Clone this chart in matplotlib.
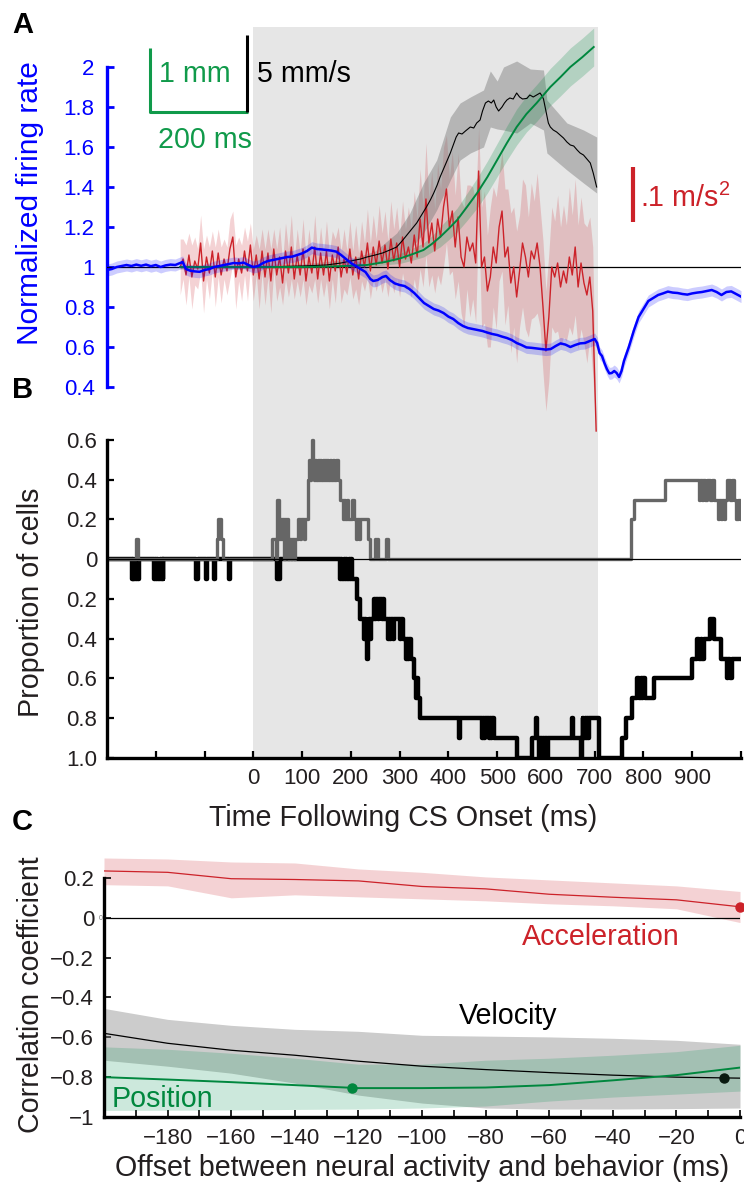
import numpy as np
import matplotlib
matplotlib.use("Agg")
import matplotlib.pyplot as plt

plt.rcParams["font.family"] = ["Liberation Sans", "DejaVu Sans"]
plt.rcParams["mathtext.fontset"] = "custom"
plt.rcParams["mathtext.rm"] = "Liberation Sans"
plt.rcParams["mathtext.it"] = "Liberation Sans:italic"

BLUE = "#0000ff"; RED = "#cc2229"; GREEN = "#00873e"; INK = "#231f20"; SHADE = "#e6e6e6"

# ---------------- panel A data ----------------
blue_t = [-300, -290, -280, -270, -260, -250, -240, -230, -220, -210, -200, -190, -180, -170, -160,
          -150, -145, -138, -130, -120, -110, -100, -90, -80, -70, -60, -50, -40, -30, -20, -10,
          0, 10, 20, 30, 40, 50, 60, 70, 80, 90, 100, 110, 120, 130, 140, 150, 160, 170, 180, 190,
          200, 210, 220, 230, 240, 246, 255, 265, 272, 280, 290, 300, 310, 320, 330, 340, 350, 360,
          370, 380, 390, 400, 410, 420, 430, 440, 450, 460, 470, 480, 490, 500, 510, 520, 530, 540,
          550, 560, 570, 580, 590, 600, 610, 620, 630, 640, 650, 660, 670, 680, 690, 700, 705, 710,
          715, 720, 725, 730, 735, 740, 745, 750, 755, 760, 770, 780, 790, 800, 810, 820, 830, 840,
          850, 860, 870, 880, 890, 900, 910, 920, 930, 940, 950, 960, 970, 980, 990, 1000]
blue_v = [0.985, 0.99, 1.0, 1.005, 1.01, 1.005, 1.012, 1.006, 1.012, 1.004, 1.01, 1.0, 1.008, 1.012, 1.01,
          1.02, 1.025, 0.99, 0.982, 0.978, 0.976, 0.985, 0.99, 1.0, 1.005, 1.01, 1.015, 1.02, 1.018, 1.022, 1.01,
          1.0, 1.005, 1.02, 1.03, 1.035, 1.04, 1.045, 1.05, 1.052, 1.06, 1.068, 1.08, 1.097, 1.09, 1.088, 1.085,
          1.082, 1.077, 1.06, 1.04, 1.02, 1.005, 0.99, 0.975, 0.94, 0.93, 0.935, 0.95, 0.955, 0.935, 0.918, 0.91,
          0.905, 0.89, 0.87, 0.845, 0.82, 0.805, 0.79, 0.782, 0.77, 0.752, 0.74, 0.72, 0.705, 0.695, 0.69, 0.685,
          0.68, 0.672, 0.665, 0.66, 0.652, 0.645, 0.635, 0.62, 0.61, 0.598, 0.596, 0.593, 0.59, 0.587, 0.59,
          0.605, 0.618, 0.612, 0.6, 0.61, 0.618, 0.62, 0.63, 0.64, 0.62, 0.57, 0.555, 0.52, 0.49, 0.468, 0.47,
          0.48, 0.47, 0.45, 0.48, 0.53, 0.6, 0.68, 0.75, 0.79, 0.83, 0.845, 0.86, 0.868, 0.877, 0.872, 0.87,
          0.865, 0.862, 0.868, 0.872, 0.875, 0.88, 0.885, 0.875, 0.86, 0.875, 0.878, 0.865, 0.852]
blue_sem = 0.03

red_t = np.append(np.arange(-150, 700, 6), 703)
red_v = [1.00, 1.04, 0.96, 1.06, 0.95, 1.03, 0.99, 1.12, 0.93, 1.05,
         0.97, 1.08, 0.95, 1.07, 0.96, 1.04, 0.98, 1.09, 1.15, 0.95,
         1.04, 0.97, 1.08, 0.98, 1.11, 0.96, 1.06, 0.94, 1.08, 0.95,
         1.07, 0.93, 1.09, 0.96, 1.05, 0.92, 1.08, 0.97, 1.10, 0.94,
         1.06, 0.96, 1.09, 0.93, 1.05, 0.97, 1.10, 0.94, 1.07, 0.96,
         1.08, 0.93, 1.06, 0.98, 1.10, 0.95, 1.04, 0.97, 1.09, 0.96,
         1.05, 0.94, 1.08, 1.00, 1.12, 0.98, 1.10, 1.01, 1.13, 1.02,
         1.11, 0.99, 1.14, 1.03, 1.12, 1.00, 1.15, 1.04, 1.10, 1.02,
         1.16, 1.05, 1.24, 1.10, 1.34, 1.12, 1.22, 1.08, 1.24, 1.15,
         1.30, 1.39, 1.20, 1.28, 1.10, 1.25, 1.05, 1.00, 1.15, 1.08,
         1.12, 1.02, 1.48, 1.00, 1.05, 0.88, 0.95, 1.10, 1.02, 1.20,
         1.28, 1.05, 1.10, 0.92, 1.00, 0.85, 0.98, 1.12, 1.05, 0.95,
         1.08, 1.04, 1.12, 1.00, 0.80, 0.58, 0.75, 1.00, 0.95, 1.02,
         0.90, 0.98, 0.92, 1.05, 0.96, 1.10, 0.90, 1.02, 0.92, 0.86,
         0.95, 0.78, 0.18]
red_err = [0.14, 0.10, 0.15, 0.11, 0.16, 0.12, 0.10, 0.14, 0.16, 0.11,
           0.13, 0.10, 0.15, 0.12, 0.14, 0.10, 0.12, 0.15, 0.13, 0.16,
           0.11, 0.14, 0.12, 0.15, 0.11,
           0.13, 0.10, 0.15, 0.11, 0.14, 0.12, 0.16, 0.10, 0.13, 0.15,
           0.11, 0.14, 0.12, 0.16, 0.10, 0.13, 0.11, 0.15, 0.12, 0.14,
           0.10, 0.16, 0.12, 0.13, 0.11, 0.15, 0.14, 0.12, 0.16, 0.10,
           0.13, 0.15, 0.11, 0.14, 0.12, 0.16, 0.13, 0.15, 0.12, 0.17,
           0.14, 0.16, 0.13, 0.18, 0.15, 0.17, 0.14, 0.19, 0.16, 0.18, 0.15,
           0.18, 0.15, 0.20, 0.17, 0.22, 0.19, 0.25, 0.20, 0.28, 0.22,
           0.26, 0.21, 0.28, 0.24, 0.30, 0.27, 0.24, 0.30, 0.26, 0.32,
           0.28, 0.30, 0.26, 0.33, 0.28, 0.30,
           0.22, 0.30, 0.33, 0.28, 0.35, 0.30, 0.33, 0.27, 0.30, 0.34,
           0.29, 0.35, 0.30, 0.33, 0.28, 0.32, 0.36, 0.30, 0.34, 0.29,
           0.35, 0.30, 0.33, 0.30, 0.32, 0.30, 0.28, 0.34, 0.30, 0.33,
           0.29, 0.35, 0.30, 0.34, 0.31, 0.33, 0.30, 0.34, 0.30, 0.32,
           0.0]

vel_t = [-150, -100, -50, 0, 50, 100, 150, 180, 200, 220, 233, 250, 265, 280, 294, 305, 315, 325,
         335, 345, 355, 363, 370, 377, 383, 390, 397, 404, 410, 416, 421, 428, 435, 440, 445, 452,
         458, 465, 470, 476, 482, 488, 493, 498, 503, 510, 515, 520, 526, 533, 540, 546, 552, 561,
         567, 574, 581, 588, 592, 595, 600, 605, 609, 615, 622, 629, 636, 643, 650, 657, 664, 670,
         677, 684, 691, 697, 704]
vel_v = [1.0, 1.0, 1.0, 1.0, 1.002, 1.005, 1.01, 1.02, 1.03, 1.04, 1.05, 1.06, 1.07, 1.085, 1.10,
         1.13, 1.16, 1.19, 1.22, 1.26, 1.30, 1.335, 1.37, 1.41, 1.45, 1.49, 1.53, 1.57, 1.61, 1.65,
         1.67, 1.665, 1.68, 1.69, 1.70, 1.695, 1.72, 1.735, 1.78, 1.82, 1.83, 1.82, 1.835, 1.80, 1.78,
         1.80, 1.82, 1.835, 1.845, 1.84, 1.87, 1.85, 1.84, 1.843, 1.86, 1.85, 1.86, 1.87, 1.855, 1.84,
         1.78, 1.72, 1.70, 1.685, 1.675, 1.66, 1.645, 1.625, 1.61, 1.605, 1.585, 1.57, 1.56, 1.54,
         1.52, 1.47, 1.40]
vel_band_t = [-150, 100, 200, 250, 294, 321, 349, 376, 404, 424, 445, 472, 486, 500, 513, 540,
              568, 595, 602, 643, 677, 704]
vel_hi = [1.01, 1.015, 1.04, 1.08, 1.17, 1.27, 1.42, 1.535, 1.75, 1.82, 1.85, 1.885, 1.98, 1.93,
          2.0, 2.03, 1.99, 1.985, 1.835, 1.72, 1.685, 1.65]
vel_lo = [0.99, 0.995, 1.01, 1.025, 1.035, 1.085, 1.17, 1.285, 1.435, 1.535, 1.57, 1.60, 1.70,
          1.69, 1.685, 1.67, 1.72, 1.685, 1.57, 1.485, 1.42, 1.37]

pos_t = [-150, 0, 100, 150, 200, 233, 270, 301, 325, 349, 366, 383, 400, 418, 438, 459, 480, 500,
         520, 540, 560, 581, 595, 609, 630, 650, 675, 698]
pos_v = [1.0, 1.0, 1.0, 1.002, 1.006, 1.01, 1.025, 1.043, 1.063, 1.085, 1.115, 1.15, 1.19, 1.235,
         1.30, 1.37, 1.45, 1.535, 1.62, 1.70, 1.765, 1.82, 1.86, 1.90, 1.95, 2.0, 2.05, 2.10]
pos_err = [0.003, 0.003, 0.004, 0.005, 0.008, 0.01, 0.015, 0.025, 0.03, 0.035, 0.04, 0.05, 0.055,
           0.06, 0.068, 0.075, 0.08, 0.083, 0.086, 0.09, 0.09, 0.092, 0.092, 0.093, 0.094, 0.095,
           0.095, 0.095]

# ---------------- panel B data (time ms, proportion in tenths) ----------------
gray_steps = [(-300, 0), (-241, 1), (-237, 0), (-74, 1), (-72, 2), (-66, 1), (-63, 0),
              (38, 1), (47, 0), (48, 3), (52, 1), (54, 2), (57, 1), (59, 2), (62, 0), (64, 2),
              (67, 1), (69, 2), (72, 0), (74, 1), (78, 0), (80, 1), (84, 0), (86, 1), (91, 2),
              (95, 1), (97, 2), (104, 1), (106, 2), (112, 4), (114, 5), (117, 4), (119, 5),
              (121, 6), (123, 5), (125, 4), (127, 5), (129, 4), (132, 5), (134, 4), (137, 5),
              (139, 4), (142, 5), (144, 4), (147, 5), (149, 4), (152, 5), (154, 4), (157, 5),
              (160, 4), (163, 5), (166, 4), (169, 5), (174, 4), (178, 3), (183, 2), (185, 3),
              (189, 2), (192, 3), (195, 2), (203, 3), (206, 2), (211, 1), (213, 2), (217, 1),
              (219, 2), (235, 1), (239, 0), (249, 1), (251, 0), (254, 1), (256, 0), (273, 1),
              (276, 0), (774, 2), (781, 3), (845, 4), (913, 3), (916, 4), (920, 3), (923, 4),
              (927, 3), (931, 4), (936, 3), (940, 4), (944, 3), (952, 2), (955, 3), (958, 2),
              (962, 3), (966, 2), (968, 3), (972, 4), (978, 3), (982, 4), (986, 3), (990, 2),
              (994, 3), (997, 2), (1000, 2)]
black_steps = [(-300, 0), (-249, -1), (-247, 0), (-246, -1), (-243, 0), (-241, -1), (-239, 0),
               (-237, -1), (-235, 0), (-204, -1), (-202, 0), (-200, -1), (-197, 0), (-195, -1),
               (-192, 0), (-190, -1), (-187, 0), (-186, -1), (-185, 0), (-117, -1), (-114, 0),
               (-98, -1), (-95, 0), (-81, -1), (-78, 0), (-50, -1), (-47, 0), (48, -1), (54, 0),
               (178, -1), (180, 0), (182, -1), (185, 0), (187, -1), (190, 0), (192, -1), (196, 0),
               (198, -1), (201, 0), (203, -1), (212, -2), (219, -3), (227, -4), (229, -3),
               (231, -4), (233, -5), (236, -4), (238, -3), (240, -4), (242, -3), (247, -2),
               (250, -3), (252, -2), (255, -3), (257, -2), (263, -3), (265, -2), (268, -3),
               (276, -4), (278, -3), (281, -4), (283, -3), (287, -4), (289, -3), (301, -4),
               (303, -3), (306, -4), (313, -5), (315, -4), (318, -5), (320, -4), (323, -5),
               (330, -6), (334, -7), (336, -6), (338, -7), (341, -8), (421, -9), (424, -8),
               (469, -9), (471, -8), (473, -9), (476, -8), (483, -9), (486, -8), (488, -9),
               (490, -8), (493, -9), (541, -10), (572, -9), (579, -8), (581, -9), (586, -10),
               (588, -9), (592, -10), (594, -9), (597, -10), (599, -9), (603, -10), (605, -9),
               (654, -8), (656, -9), (671, -10), (673, -9), (675, -8), (677, -9), (680, -8),
               (682, -9), (685, -8), (687, -9), (689, -8), (709, -10), (757, -9), (764, -8),
               (777, -7), (787, -6), (791, -7), (794, -6), (797, -7), (800, -6), (804, -7),
               (821, -6), (900, -5), (910, -4), (914, -5), (917, -4), (921, -5), (924, -4),
               (937, -3), (944, -4), (958, -5), (972, -6), (974, -5), (978, -6), (982, -5),
               (1000, -5)]

# ---------------- panel C data ----------------
lag = [-200, -180, -160, -140, -120, -100, -80, -60, -40, -20, 0]
acc_r = [0.235, 0.228, 0.196, 0.192, 0.185, 0.157, 0.145, 0.118, 0.103, 0.09, 0.055]
acc_hi = [0.30, 0.295, 0.28, 0.275, 0.245, 0.228, 0.205, 0.19, 0.175, 0.16, 0.132]
acc_lo = [0.166, 0.16, 0.10, 0.115, 0.105, 0.095, 0.085, 0.07, 0.06, 0.045, -0.024]
vel_r = [-0.58, -0.63, -0.665, -0.69, -0.72, -0.745, -0.762, -0.777, -0.79, -0.80, -0.805]
vel_r_hi = [-0.455, -0.51, -0.54, -0.56, -0.57, -0.59, -0.594, -0.598, -0.605, -0.615, -0.635]
vel_r_lo = [-0.715, -0.745, -0.78, -0.83, -0.89, -0.93, -0.955, -0.96, -0.96, -0.958, -0.955]
pos_r = [-0.80, -0.812, -0.825, -0.84, -0.855, -0.855, -0.852, -0.84, -0.816, -0.79, -0.752]
pos_r_hi = [-0.648, -0.66, -0.68, -0.705, -0.735, -0.735, -0.715, -0.705, -0.69, -0.672, -0.64]
pos_r_lo = [-0.967, -0.966, -0.965, -0.962, -0.96, -0.955, -0.945, -0.92, -0.90, -0.885, -0.87]
peak_acc = (0, 0.055); peak_vel = (-5, -0.805); peak_pos = (-122, -0.855)

TICK_FS = 16
LAB_FS = 20.6

W, H = 744, 1191
fig = plt.figure(figsize=(W / 100, H / 100), dpi=100)
fx = lambda px: px / W
fy = lambda py: 1 - py / H

def box(l, t, r, b):
    return [fx(l), fy(b), fx(r) - fx(l), fy(t) - fy(b)]

# ---------------- A ----------------
axA = fig.add_axes(box(107, 27, 741, 432))
axA.set_xlim(-300, 1000); axA.set_ylim(0.175, 2.2)
axA.axvspan(0, 706, color=SHADE, lw=0, zorder=0)
axA.axhline(1, color="k", lw=0.9, zorder=4)
rv = np.array(red_v); re = np.array(red_err)
axA.fill_between(red_t, rv - re, rv + re, color=RED, alpha=0.2, lw=0, zorder=1)
axA.fill_between(vel_band_t, vel_lo, vel_hi, color="#7a7a7a", alpha=0.45, lw=0, zorder=2)
pv = np.array(pos_v); pe = np.array(pos_err)
axA.fill_between(pos_t, pv - pe, pv + pe, color=GREEN, alpha=0.22, lw=0, zorder=3)
axA.plot(red_t, red_v, color=RED, lw=1.0, zorder=5)
axA.plot(vel_t, vel_v, color="k", lw=0.8, zorder=6)
axA.plot(pos_t, pos_v, color=GREEN, lw=1.4, zorder=6)
bv = np.array(blue_v)
axA.fill_between(blue_t, bv - blue_sem, bv + blue_sem, color=BLUE, alpha=0.2, lw=0, zorder=7)
axA.plot(blue_t, blue_v, color=BLUE, lw=1.8, zorder=8)
for s in ["top", "right", "bottom"]:
    axA.spines[s].set_visible(False)
axA.spines["left"].set_color(BLUE); axA.spines["left"].set_linewidth(2.4)
axA.spines["left"].set_bounds(0.4, 2.0)
axA.set_xticks([])
axA.set_yticks([0.4, 0.6, 0.8, 1.0, 1.2, 1.4, 1.6, 1.8, 2.0])
axA.set_yticklabels(["0.4", "0.6", "0.8", "1", "1.2", "1.4", "1.6", "1.8", "2"])
axA.tick_params(axis="y", direction="in", length=5, width=2, color=BLUE, labelcolor=BLUE,
                labelsize=TICK_FS, pad=9)
axA.patch.set_alpha(0)
# scale bars
axA.plot([-211, -211, -10], [2.095, 1.775, 1.775], color="#109a4a", lw=2.2, clip_on=False,
         solid_capstyle="butt")
axA.plot([-12, -12], [2.16, 1.775], color="k", lw=2.2, clip_on=False, solid_capstyle="butt")
axA.text(-119, 1.927, "1 mm", color="#109a4a", fontsize=LAB_FS, ha="center", va="baseline")
axA.text(8, 1.927, "5 mm/s", color="k", fontsize=LAB_FS, ha="left", va="baseline")
axA.text(-100, 1.593, "200 ms", color="#109a4a", fontsize=LAB_FS, ha="center", va="baseline")
axA.plot([779, 779], [1.5, 1.225], color=RED, lw=3, solid_capstyle="butt")
axA.text(793, 1.30, ".1 m/s$^2$", color=RED, fontsize=LAB_FS, ha="left", va="baseline")

# ---------------- B ----------------
axB = fig.add_axes(box(107, 432, 741, 758))
axB.set_xlim(-300, 1000); axB.set_ylim(-1.0, 0.64)
axB.axvspan(0, 706, color=SHADE, lw=0, zorder=0)
bt = [p[0] for p in black_steps]; bvv = [p[1] / 10 for p in black_steps]
gt = [p[0] for p in gray_steps]; gvv = [p[1] / 10 for p in gray_steps]
axB.step(bt, bvv, where="post", color="k", lw=3.2, zorder=3)
axB.step(gt, gvv, where="post", color="#666666", lw=2.4, zorder=4)
axB.axhline(0, color="k", lw=0.9, zorder=5)
for s in ["top", "right"]:
    axB.spines[s].set_visible(False)
for s in ["left", "bottom"]:
    axB.spines[s].set_linewidth(2.4); axB.spines[s].set_zorder(6)
axB.spines["left"].set_bounds(-1.0, 0.6)
axB.set_yticks([0.6, 0.4, 0.2, 0, -0.2, -0.4, -0.6, -0.8, -1.0])
axB.set_yticklabels(["0.6", "0.4", "0.2", "0", "0.2", "0.4", "0.6", "0.8", "1.0"])
xt = list(range(-200, 1001, 100))
axB.set_xticks(xt)
axB.set_xticklabels([str(v) if 0 <= v <= 900 else "" for v in xt])
axB.tick_params(direction="in", length=5, width=1.6, labelsize=TICK_FS, labelcolor=INK, pad=7)

# ---------------- C ----------------
axC = fig.add_axes(box(104, 854, 740, 1117))
axC.set_xlim(-200, 0); axC.set_ylim(-1.0, 0.32)
axC.fill_between(lag, acc_lo, acc_hi, color=RED, alpha=0.2, lw=0, zorder=1)
axC.fill_between(lag, vel_r_lo, vel_r_hi, color="#808080", alpha=0.4, lw=0, zorder=2)
axC.fill_between(lag, pos_r_lo, pos_r_hi, color="#009050", alpha=0.2, lw=0, zorder=3)
axC.axhline(0, color="k", lw=0.9, zorder=4)
axC.plot(lag, acc_r, color=RED, lw=0.9, zorder=5)
axC.plot(lag, vel_r, color="k", lw=0.9, zorder=5)
axC.plot(lag, pos_r, color=GREEN, lw=1.4, zorder=5)
axC.plot(*peak_acc, "o", color=RED, ms=6.5, clip_on=False, zorder=8)
axC.plot(*peak_vel, "o", color="#0a1a10", ms=6.5, clip_on=False, zorder=8)
axC.plot(*peak_pos, "o", color=GREEN, ms=6.5, clip_on=False, zorder=8)
for s in ["top", "right"]:
    axC.spines[s].set_visible(False)
for s in ["left", "bottom"]:
    axC.spines[s].set_linewidth(2.4); axC.spines[s].set_zorder(6)
axC.spines["left"].set_bounds(-1.0, 0.2)
axC.set_yticks([0.2, 0, -0.2, -0.4, -0.6, -0.8, -1.0])
axC.set_yticklabels(["0.2", "0", "\u22120.2", "\u22120.4", "\u22120.6", "\u22120.8", "\u22121"])
axC.set_xticks(range(-180, 1, 20))
axC.set_xticklabels(["\u2212%d" % -v if v else "0" for v in range(-180, 1, 20)])
axC.set_xticks(range(-190, 0, 20), minor=True)
axC.tick_params(which="both", direction="in", length=5, width=1.2, labelsize=TICK_FS,
                labelcolor=INK, pad=8)
axC.tick_params(axis="y", pad=7)
axC.text(-43.7, -0.136, "Acceleration", color=RED, fontsize=LAB_FS, ha="center", va="baseline")
axC.text(-72.8, -0.531, "Velocity", color="k", fontsize=LAB_FS, ha="center", va="baseline")
axC.text(-197.5, -0.948, "Position", color=GREEN, fontsize=LAB_FS, ha="left", va="baseline")
fig.text(fx(101), fy(918), "0", fontsize=5, color="#777777", ha="center", va="center")

# ---------------- labels ----------------
fig.text(fx(30), fy(203), "Normalized firing rate", rotation=90, color=BLUE, fontsize=21.5,
         ha="center", va="center")
fig.text(fx(31), fy(602), "Proportion of cells", rotation=90, color=INK, fontsize=LAB_FS,
         ha="center", va="center")
fig.text(fx(31), fy(995), "Correlation coefficient", rotation=90, color=INK, fontsize=LAB_FS,
         ha="center", va="center")
fig.text(fx(403), fy(818), "Time Following CS Onset (ms)", color=INK, fontsize=LAB_FS,
         ha="center", va="center")
fig.text(fx(422), fy(1168), "Offset between neural activity and behavior (ms)", color=INK,
         fontsize=LAB_FS, ha="center", va="center")
for lab, y in [("A", 25), ("B", 390), ("C", 822)]:
    fig.text(fx(12), fy(y), lab, fontsize=21, fontweight="bold", ha="left", va="center")

fig.savefig("out.png", dpi=100)
